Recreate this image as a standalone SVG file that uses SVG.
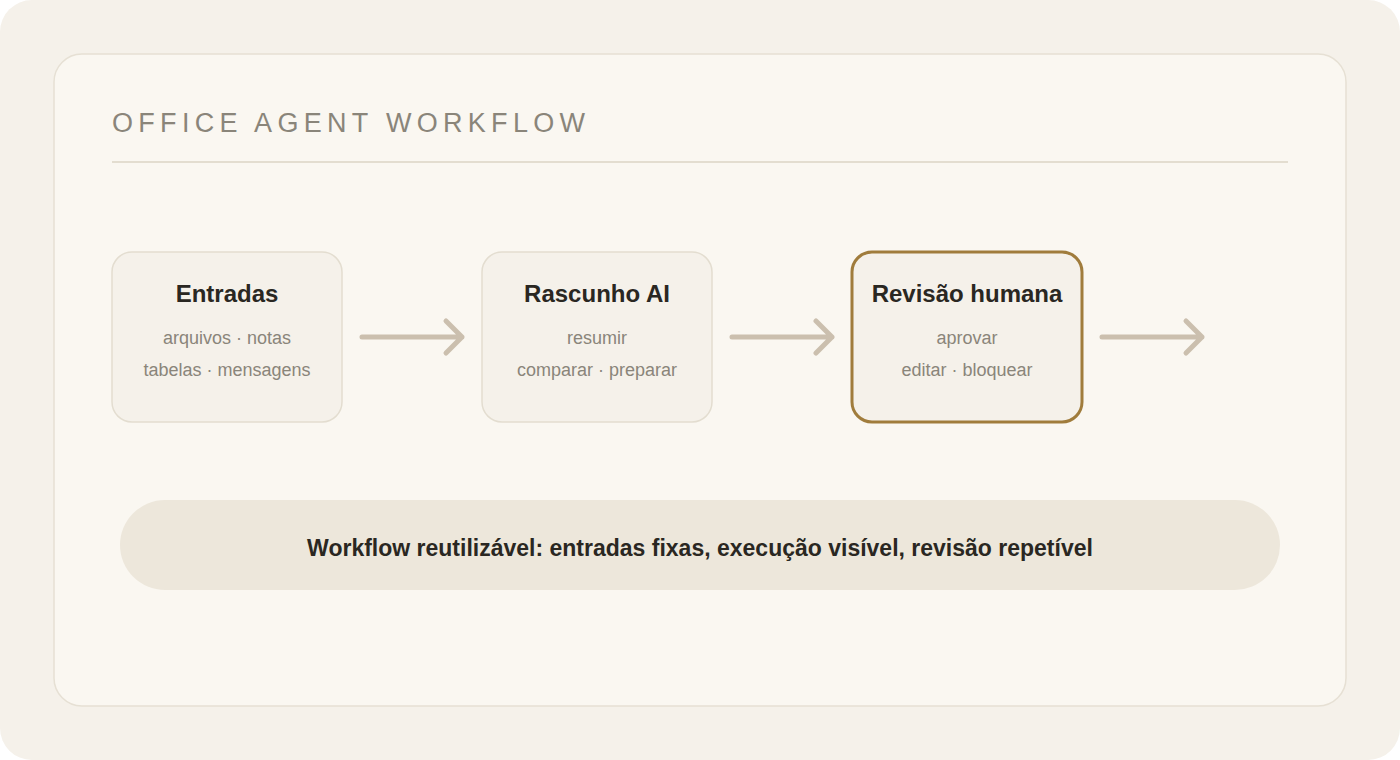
<svg xmlns="http://www.w3.org/2000/svg" width="1400" height="760" viewBox="0 0 1400 760">
<style>
.node rect{fill:#f5f1ea;stroke:#e3ddd0;stroke-width:1.5}
.node.hl rect{stroke:#a07c3c;stroke-width:3}
.t{font-family:"Liberation Sans",Arial,sans-serif;font-weight:bold;font-size:24px;fill:#2a2722;text-anchor:middle}
.s{font-family:"Liberation Sans",Arial,sans-serif;font-size:18px;fill:#8a857a;text-anchor:middle}
.conn path{fill:none;stroke:#cbbfae;stroke-width:5;stroke-linecap:round;stroke-linejoin:round}
</style>
<rect x="0" y="0" width="1400" height="760" fill="#ffffff"/>
<rect x="0" y="0" width="1400" height="760" rx="32" fill="#f5f1ea"/>
<rect x="54" y="54" width="1292" height="652" rx="28" fill="#faf7f1" stroke="#e6e0d4" stroke-width="1.5"/>
<text x="112" y="132" font-family="'Liberation Sans',Arial,sans-serif" font-size="27" letter-spacing="5.3" fill="#8a857a">OFFICE AGENT WORKFLOW</text>
<line x1="112" y1="162" x2="1288" y2="162" stroke="#e3ddd0" stroke-width="2"/>
<g id="node-entradas" class="node">
<rect x="112" y="252" width="230" height="170" rx="20"/>
<text class="t" x="227" y="302">Entradas</text>
<text class="s" x="227" y="344">arquivos · notas</text>
<text class="s" x="227" y="376">tabelas · mensagens</text>
</g>
<g id="node-rascunho" class="node">
<rect x="482" y="252" width="230" height="170" rx="20"/>
<text class="t" x="597" y="302">Rascunho AI</text>
<text class="s" x="597" y="344">resumir</text>
<text class="s" x="597" y="376">comparar · preparar</text>
</g>
<g id="node-revisao" class="node hl">
<rect x="852" y="252" width="230" height="170" rx="20"/>
<text class="t" x="967" y="302">Revisão humana</text>
<text class="s" x="967" y="344">aprovar</text>
<text class="s" x="967" y="376">editar · bloquear</text>
</g>
<g id="connectors" class="conn">
<path d="M362 337 H462 M446 321 L462 337 L446 353"/>
<path d="M732 337 H832 M816 321 L832 337 L816 353"/>
<path d="M1102 337 H1202 M1186 321 L1202 337 L1186 353"/>
</g>
<g id="summary">
<rect x="120" y="500" width="1160" height="90" rx="45" fill="#ede7db"/>
<text x="700" y="556" font-family="'Liberation Sans',Arial,sans-serif" font-weight="bold" font-size="23" fill="#2a2722" text-anchor="middle">Workflow reutilizável: entradas fixas, execução visível, revisão repetível</text>
</g>
</svg>
